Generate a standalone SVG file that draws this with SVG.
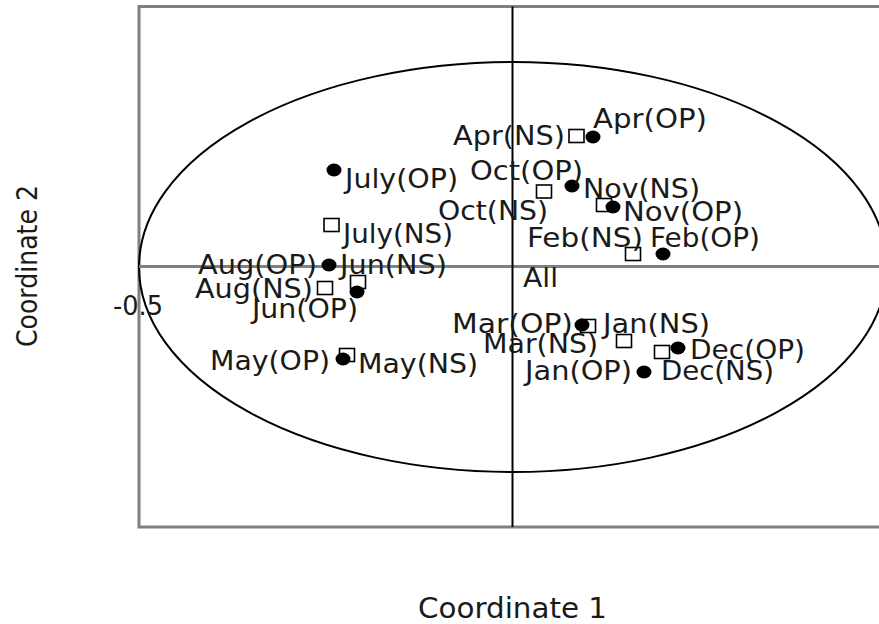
<svg xmlns="http://www.w3.org/2000/svg" width="879" height="624" viewBox="0 0 879 624">
<style>
.lbl{font-family:"DejaVu Sans","Noto Sans",sans-serif;font-size:27px;fill:#1a1a1a}
.ttl{font-family:"DejaVu Sans","Noto Sans",sans-serif;font-size:28px;fill:#1a1a1a}
.sq{fill:#fff;stroke:#000;stroke-width:1.6}
.dot{fill:#000}
</style>
<defs>
<rect id="sq" class="sq" x="-7.5" y="-6.5" width="15" height="13"/>
<ellipse id="dot" class="dot" rx="7.5" ry="6.5"/>
</defs>
<rect width="879" height="624" fill="#fff"/>
<g id="axes">
<rect x="139" y="6.5" width="760" height="520.5" fill="none" stroke="#808080" stroke-width="3"/>
<ellipse cx="513" cy="267" rx="374" ry="205" fill="none" stroke="#000" stroke-width="2"/>
<line x1="139" y1="266.5" x2="879" y2="266.5" stroke="#808080" stroke-width="3"/>
<line x1="512.5" y1="6.5" x2="512.5" y2="527" stroke="#000" stroke-width="2"/>
<text class="ttl" x="418" y="618" textLength="189" lengthAdjust="spacingAndGlyphs">Coordinate 1</text>
<text class="ttl" transform="translate(37,347) rotate(-90)" x="0" y="0" textLength="162" lengthAdjust="spacingAndGlyphs">Coordinate 2</text>
<text class="lbl" x="113" y="315" textLength="50" lengthAdjust="spacingAndGlyphs">-0.5</text>
<text class="lbl" x="523" y="287" textLength="35" lengthAdjust="spacingAndGlyphs">All</text>
</g>
<g id="connectors"></g>
<g id="squares">
<use href="#sq" x="576.5" y="136"/>
<use href="#sq" x="544" y="191.5"/>
<use href="#sq" x="604" y="205"/>
<use href="#sq" x="633" y="254"/>
<use href="#sq" x="331.5" y="225"/>
<use href="#sq" x="358" y="282"/>
<use href="#sq" x="325" y="288"/>
<use href="#sq" x="347" y="355"/>
<use href="#sq" x="588" y="326"/>
<use href="#sq" x="624" y="341"/>
<use href="#sq" x="662" y="352"/>
</g>
<g id="dots">
<use href="#dot" x="593" y="137"/>
<use href="#dot" x="572" y="186"/>
<use href="#dot" x="613" y="207"/>
<use href="#dot" x="663" y="254"/>
<use href="#dot" x="334" y="170"/>
<use href="#dot" x="329" y="265"/>
<use href="#dot" x="357" y="292"/>
<use href="#dot" x="343" y="359"/>
<use href="#dot" x="582" y="325"/>
<use href="#dot" x="678" y="348"/>
<use href="#dot" x="644" y="372"/>
</g>
<g id="labels">
<text id="apr-op" class="lbl" x="593" y="128" textLength="114" lengthAdjust="spacingAndGlyphs">Apr(OP)</text>
<text id="apr-ns" class="lbl" x="453" y="145" textLength="112" lengthAdjust="spacingAndGlyphs">Apr(NS)</text>
<text id="oct-op" class="lbl" x="470" y="180" textLength="113" lengthAdjust="spacingAndGlyphs">Oct(OP)</text>
<text id="nov-ns" class="lbl" x="583" y="198" textLength="117" lengthAdjust="spacingAndGlyphs">Nov(NS)</text>
<text id="oct-ns" class="lbl" x="438" y="220" textLength="110" lengthAdjust="spacingAndGlyphs">Oct(NS)</text>
<text id="nov-op" class="lbl" x="623" y="221" textLength="120" lengthAdjust="spacingAndGlyphs">Nov(OP)</text>
<text id="feb-ns" class="lbl" x="527" y="247" textLength="116" lengthAdjust="spacingAndGlyphs">Feb(NS)</text>
<text id="feb-op" class="lbl" x="650" y="247" textLength="110" lengthAdjust="spacingAndGlyphs">Feb(OP)</text>
<text id="july-op" class="lbl" x="345" y="188" textLength="113" lengthAdjust="spacingAndGlyphs">July(OP)</text>
<text id="july-ns" class="lbl" x="343" y="243" textLength="110" lengthAdjust="spacingAndGlyphs">July(NS)</text>
<text id="aug-op" class="lbl" x="198" y="274" textLength="119" lengthAdjust="spacingAndGlyphs">Aug(OP)</text>
<text id="jun-ns" class="lbl" x="340" y="274" textLength="107" lengthAdjust="spacingAndGlyphs">Jun(NS)</text>
<text id="aug-ns" class="lbl" x="195" y="298" textLength="118" lengthAdjust="spacingAndGlyphs">Aug(NS)</text>
<text id="jun-op" class="lbl" x="252" y="318" textLength="106" lengthAdjust="spacingAndGlyphs">Jun(OP)</text>
<text id="may-op" class="lbl" x="210" y="370" textLength="120" lengthAdjust="spacingAndGlyphs">May(OP)</text>
<text id="may-ns" class="lbl" x="358" y="373" textLength="120" lengthAdjust="spacingAndGlyphs">May(NS)</text>
<text id="mar-op" class="lbl" x="452" y="333" textLength="121" lengthAdjust="spacingAndGlyphs">Mar(OP)</text>
<text id="jan-ns" class="lbl" x="603" y="333" textLength="107" lengthAdjust="spacingAndGlyphs">Jan(NS)</text>
<text id="mar-ns" class="lbl" x="483" y="353" textLength="115" lengthAdjust="spacingAndGlyphs">Mar(NS)</text>
<text id="dec-op" class="lbl" x="690" y="359" textLength="115" lengthAdjust="spacingAndGlyphs">Dec(OP)</text>
<text id="jan-op" class="lbl" x="525" y="380" textLength="107" lengthAdjust="spacingAndGlyphs">Jan(OP)</text>
<text id="dec-ns" class="lbl" x="661" y="380" textLength="113" lengthAdjust="spacingAndGlyphs">Dec(NS)</text>
</g>
</svg>
